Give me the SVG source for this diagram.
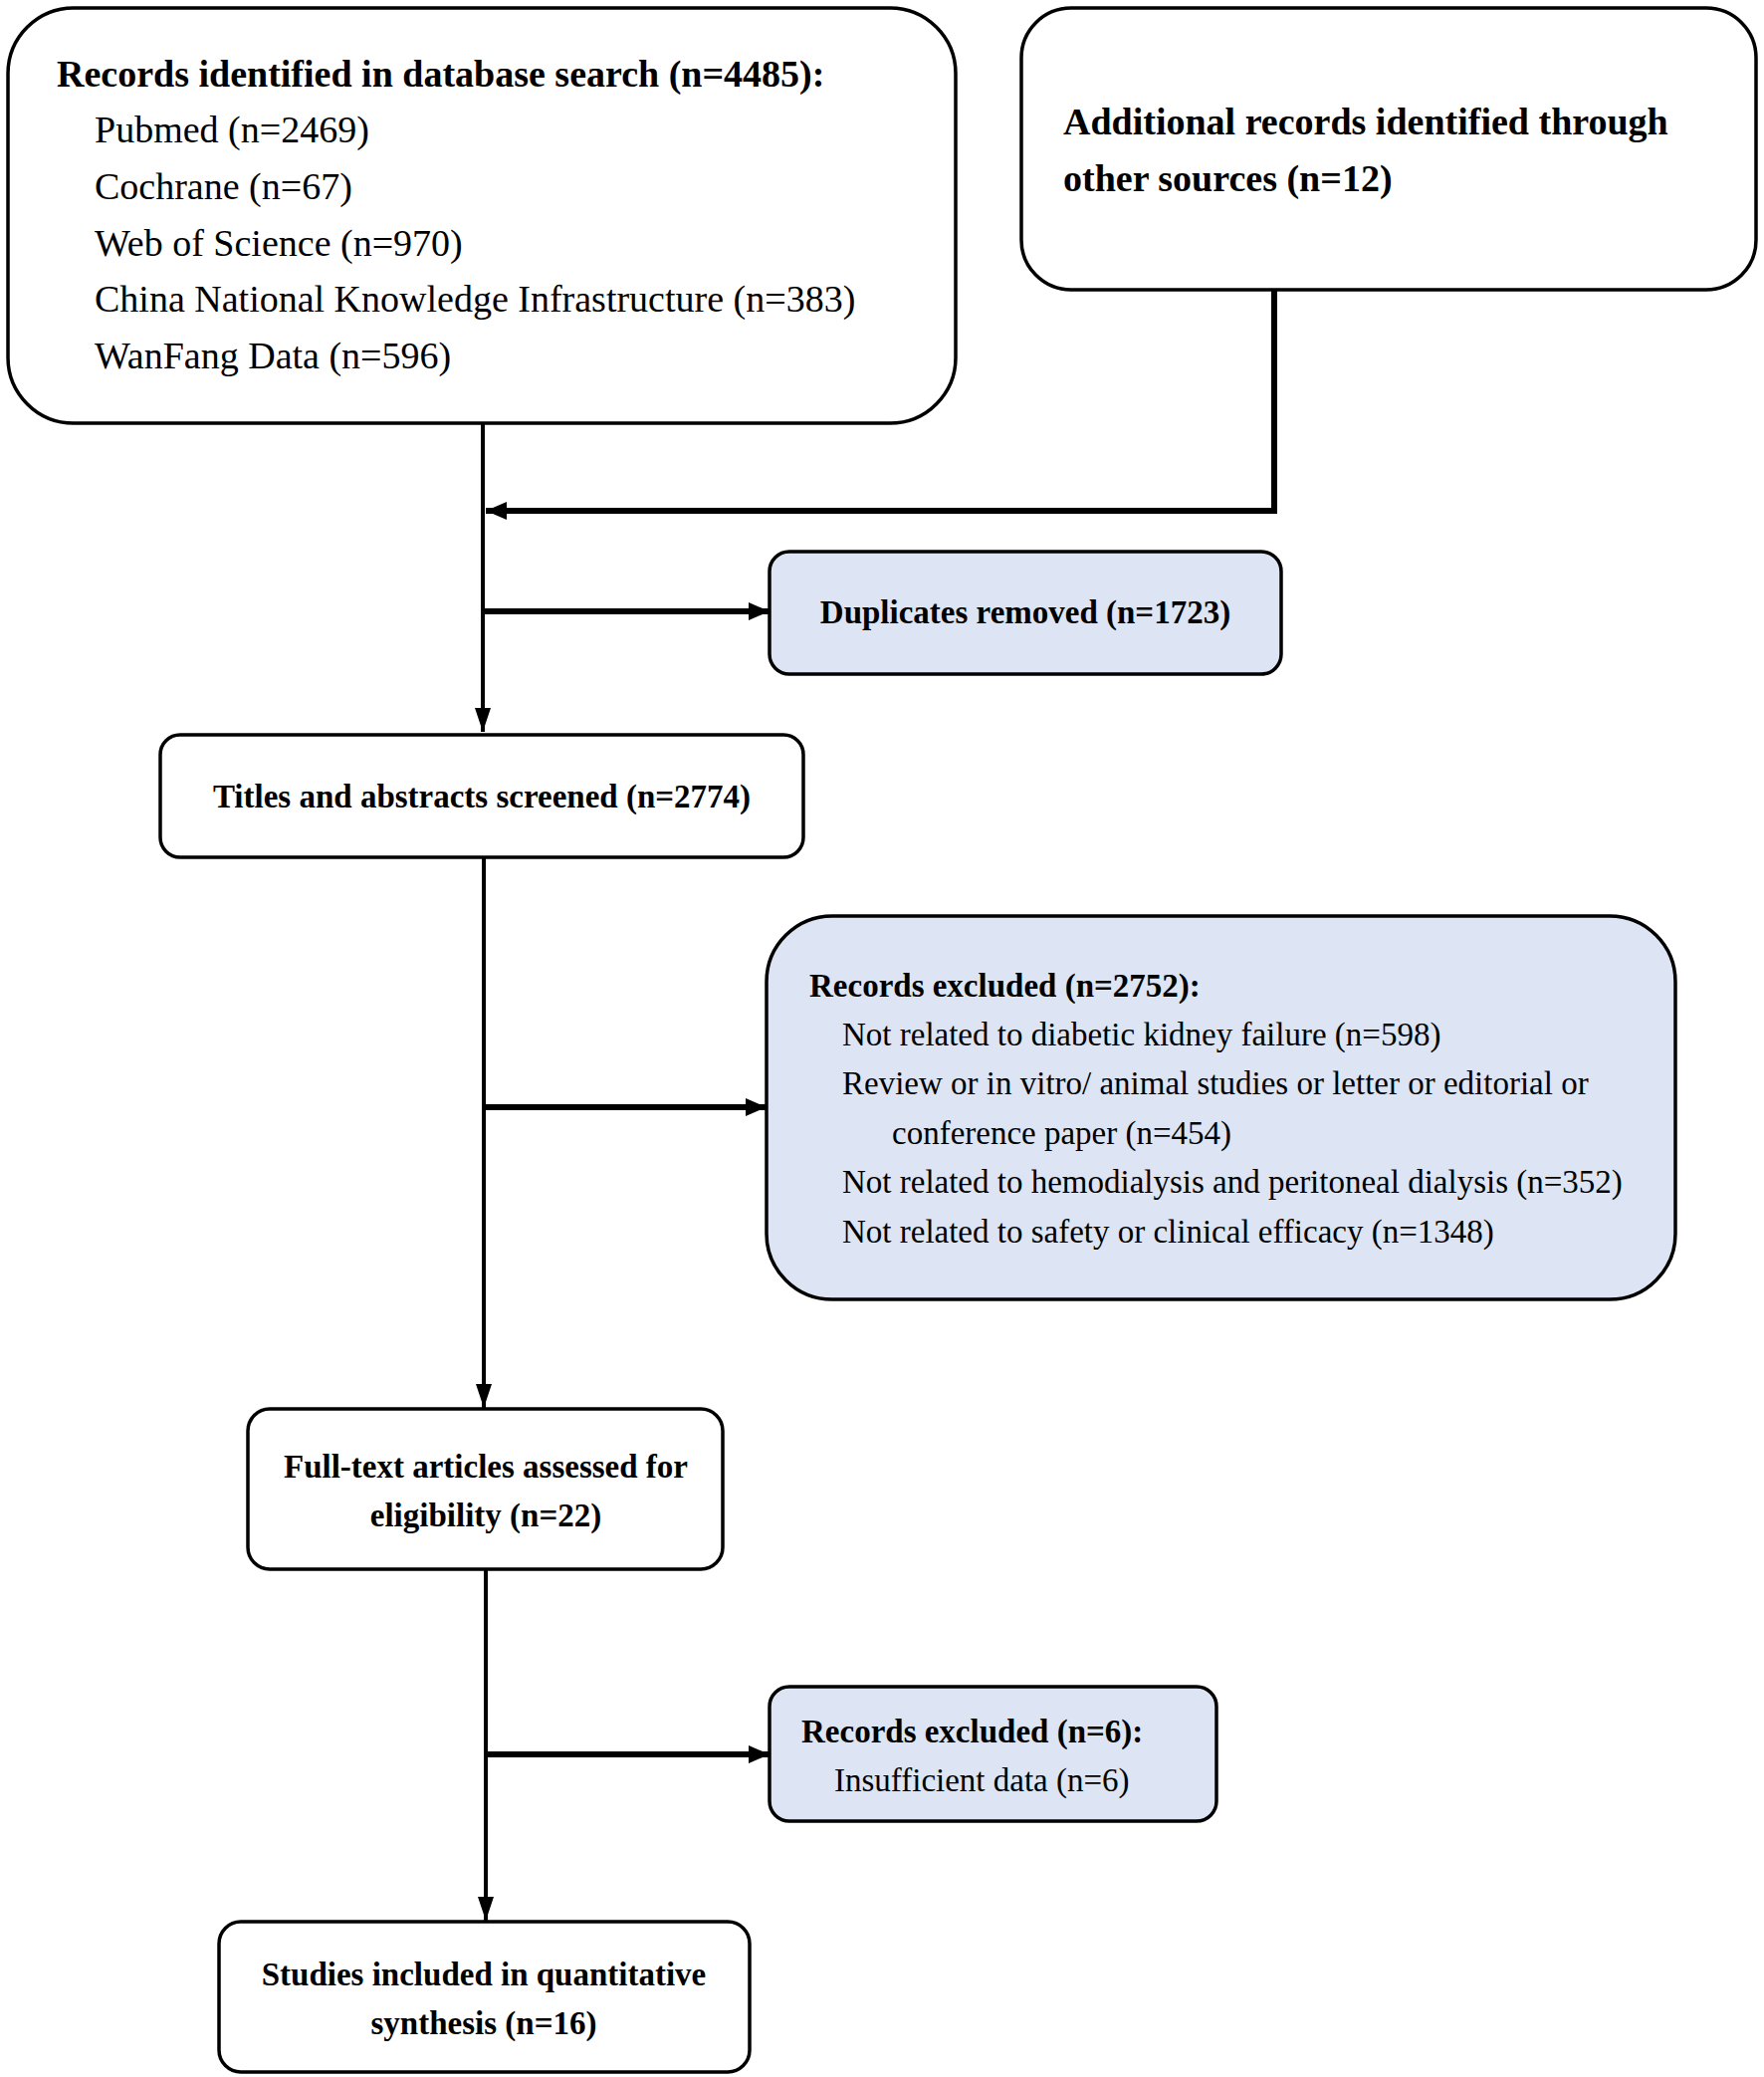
<svg xmlns="http://www.w3.org/2000/svg" width="1772" height="2086" viewBox="0 0 1772 2086">
<defs>
<style>
.box{fill:#ffffff;stroke:#000;stroke-width:3.5}
.blue{fill:#dde5f4;stroke:#000;stroke-width:3.5}
.b{font-family:"Liberation Serif","Times New Roman",serif;font-weight:bold;fill:#000}
.r{font-family:"Liberation Serif","Times New Roman",serif;fill:#000}
.v{stroke:#000;stroke-width:4;fill:none}
.h{stroke:#000;stroke-width:6;fill:none}
</style>
<marker id="ad" markerUnits="userSpaceOnUse" markerWidth="24" markerHeight="26" viewBox="0 0 24 26" refX="24" refY="13" orient="auto">
<path d="M0,5 L24,13 L0,21 Z" fill="#000"/>
</marker>
<marker id="ah" markerUnits="userSpaceOnUse" markerWidth="24" markerHeight="24" viewBox="0 0 24 24" refX="21" refY="12" orient="auto">
<path d="M0,3 L21,12 L0,21 Z" fill="#000"/>
</marker>
</defs>
<rect width="1772" height="2086" fill="#fff"/>

<g id="connectors">
<line class="v" x1="485" y1="426" x2="485" y2="735" marker-end="url(#ad)"/>
<polyline class="h" points="1280,291 1280,513 488,513" marker-end="url(#ah)"/>
<line class="h" x1="485" y1="614" x2="773" y2="614" marker-end="url(#ah)"/>
<line class="v" x1="486" y1="862" x2="486" y2="1414" marker-end="url(#ad)"/>
<line class="h" x1="486" y1="1112" x2="770" y2="1112" marker-end="url(#ah)"/>
<line class="v" x1="488" y1="1577" x2="488" y2="1929" marker-end="url(#ad)"/>
<line class="h" x1="488" y1="1762" x2="773" y2="1762" marker-end="url(#ah)"/>
</g>

<g id="n-database">
<rect class="box" x="8" y="8" width="952" height="417" rx="66" ry="66"/>
<text class="b" x="57" y="87" font-size="38">Records identified in database search (n=4485):</text>
<text class="r" x="95" y="143" font-size="38">Pubmed (n=2469)</text>
<text class="r" x="95" y="200" font-size="38">Cochrane (n=67)</text>
<text class="r" x="95" y="257" font-size="38">Web of Science (n=970)</text>
<text class="r" x="95" y="313" font-size="38">China National Knowledge Infrastructure (n=383)</text>
<text class="r" x="95" y="370" font-size="38">WanFang Data (n=596)</text>
</g>

<g id="n-other">
<rect class="box" x="1026" y="8" width="738" height="283" rx="50" ry="50"/>
<text class="b" x="1068" y="135" font-size="38">Additional records identified through</text>
<text class="b" x="1068" y="192" font-size="38">other sources (n=12)</text>
</g>

<g id="n-duplicates">
<rect class="blue" x="773" y="554" width="514" height="123" rx="20" ry="20"/>
<text class="b" x="1030" y="626" font-size="33" text-anchor="middle">Duplicates removed (n=1723)</text>
</g>

<g id="n-titles">
<rect class="box" x="161" y="738" width="646" height="123" rx="20" ry="20"/>
<text class="b" x="484" y="811" font-size="33" text-anchor="middle">Titles and abstracts screened (n=2774)</text>
</g>

<g id="n-excluded1">
<rect class="blue" x="770" y="920" width="913" height="385" rx="66" ry="66"/>
<text class="b" x="813" y="1001" font-size="33">Records excluded (n=2752):</text>
<text class="r" x="846" y="1050" font-size="33">Not related to diabetic kidney failure (n=598)</text>
<text class="r" x="846" y="1099" font-size="33">Review or in vitro/ animal studies or letter or editorial or</text>
<text class="r" x="896" y="1149" font-size="33">conference paper (n=454)</text>
<text class="r" x="846" y="1198" font-size="33">Not related to hemodialysis and peritoneal dialysis (n=352)</text>
<text class="r" x="846" y="1248" font-size="33">Not related to safety or clinical efficacy (n=1348)</text>
</g>

<g id="n-fulltext">
<rect class="box" x="249" y="1415" width="477" height="161" rx="22" ry="22"/>
<text class="b" x="488" y="1484" font-size="33" text-anchor="middle">Full-text articles assessed for</text>
<text class="b" x="488" y="1533" font-size="33" text-anchor="middle">eligibility (n=22)</text>
</g>

<g id="n-excluded2">
<rect class="blue" x="773" y="1694" width="449" height="135" rx="20" ry="20"/>
<text class="b" x="805" y="1750" font-size="33">Records excluded (n=6):</text>
<text class="r" x="838" y="1799" font-size="33">Insufficient data (n=6)</text>
</g>

<g id="n-studies">
<rect class="box" x="220" y="1930" width="533" height="151" rx="22" ry="22"/>
<text class="b" x="486" y="1994" font-size="33" text-anchor="middle">Studies included in quantitative</text>
<text class="b" x="486" y="2043" font-size="33" text-anchor="middle">synthesis (n=16)</text>
</g>
</svg>
